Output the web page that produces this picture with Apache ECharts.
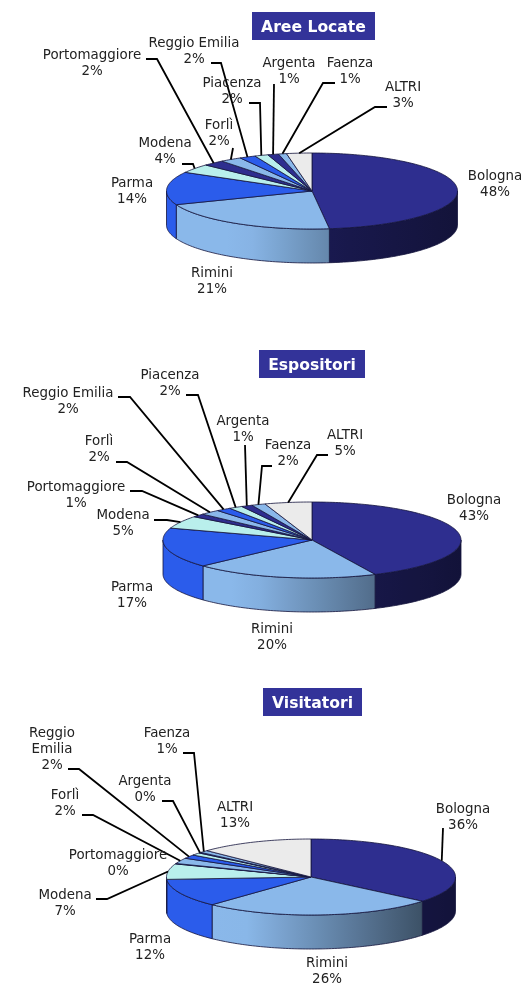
<!DOCTYPE html>
<html>
<head>
<meta charset="utf-8">
<style>
html,body{margin:0;padding:0;background:#fff}
#main{width:523px;height:984px}
</style>
<script src="https://cdn.jsdelivr.net/npm/echarts@6/dist/echarts.min.js"></script>
</head>
<body>
<div id="main"></div>
<script>
// slices run clockwise from 12 o'clock
var categories = ['Bologna','Rimini','Parma','Modena','Portomaggiore','Forlì','Reggio Emilia','Piacenza','Argenta','Faenza','ALTRI'];
var areeValues = [48,21,14,3.8,2.4,2.4,1.8,1.5,1.2,0.9,2.8];
var espositoriValues = [43,20,17,5.4,1.4,2.2,1.6,1.5,1.2,1.5,5.1];
var visitatoriValues = [36,26,12,6.6,0.2,2.4,1.6,1.1,0.3,1,12.8];
var sliceColors = ['#2e2e8f','#8ab8ea','#2b5ceb','#b9efec','#2e2e8f','#8ab8ea','#2b5ceb','#b9efec','#2e2e8f','#8ab8ea','#ebebeb'];

// label centre [x,y], then elbow points of the leader line (the rim end is computed)
var pies = [
  {title:'Aree Locate', values:areeValues, cx:312, cy:191, rx:145.5, ry:38, depth:34, box:[252,12,123,28],
   labels:{
    'Bologna':{at:[495,182]},
    'Rimini':{at:[212,279]},
    'Parma':{at:[132,189]},
    'Modena':{at:[165,149],line:[[182,164],[193,164]]},
    'Portomaggiore':{at:[92,61],line:[[146,59],[157,59]]},
    'Forlì':{at:[219,131],line:[[233,148]]},
    'Reggio Emilia':{at:[194,49],line:[[211,63],[221,63]]},
    'Piacenza':{at:[232,89],line:[[249,103],[260,103]]},
    'Argenta':{at:[289,69],line:[[274,84]]},
    'Faenza':{at:[350,69],line:[[335,83],[323,83]]},
    'ALTRI':{at:[403,93],line:[[387,107],[375,107]]}
   }},
  {title:'Espositori', values:espositoriValues, cx:312, cy:540, rx:149, ry:38, depth:34, box:[259,350,106,28],
   labels:{
    'Bologna':{at:[474,506]},
    'Rimini':{at:[272,635]},
    'Parma':{at:[132,593]},
    'Modena':{at:[123,521],line:[[154,520],[167,520]]},
    'Portomaggiore':{at:[76,493],line:[[130,491],[142,491]]},
    'Forlì':{at:[99,447],line:[[116,462],[127,462]]},
    'Reggio Emilia':{at:[68,399],line:[[118,397],[130,397]]},
    'Piacenza':{at:[170,381],line:[[186,395],[198,395]]},
    'Argenta':{at:[243,427],line:[[245,445]]},
    'Faenza':{at:[288,451],line:[[272,466],[262,466]]},
    'ALTRI':{at:[345,441],line:[[328,455],[317,455]]}
   }},
  {title:'Visitatori', values:visitatoriValues, cx:311, cy:877, rx:144.5, ry:38, depth:34, box:[263,688,99,28],
   labels:{
    'Bologna':{at:[463,815],line:[[443,828]]},
    'Rimini':{at:[327,969]},
    'Parma':{at:[150,945]},
    'Modena':{at:[65,901],line:[[96,899],[107,899]]},
    'Portomaggiore':{at:[118,861]},
    'Forlì':{at:[65,801],line:[[82,815],[93,815]]},
    'Reggio Emilia':{at:[52,747],line:[[68,769],[79,769]],text:'Reggio\nEmilia'},
    'Argenta':{at:[145,787],line:[[162,801],[173,801]]},
    'Faenza':{at:[167,739],line:[[183,753],[194,753]]},
    'ALTRI':{at:[235,813]}
   }}
];

var TOP = -Math.PI / 2;

function rimPoint(p, ang, dy) {
  return [p.cx + p.rx * Math.cos(ang), p.cy + p.ry * Math.sin(ang) + (dy || 0)];
}

function arcPoints(p, a0, a1, dy) {
  var n = Math.max(2, Math.ceil(Math.abs(a1 - a0) / 0.02));
  var pts = [];
  for (var i = 0; i <= n; i++) pts.push(rimPoint(p, a0 + (a1 - a0) * i / n, dy));
  return pts;
}

// darken a colour for the lit side wall, darker towards the right of the pie
function shade(hex, m) {
  var c = echarts.color.parse(hex);
  return 'rgb(' + Math.round(c[0]*m) + ',' + Math.round(c[1]*m) + ',' + Math.round(c[2]*m) + ')';
}
function sideFactor(x, idx) {
  if (idx === 0) return 0.55 - (x - 330) / 130 * 0.15;
  var m = 1 - (x - 245) * 0.00317;
  return Math.max(0.4, Math.min(1, m));
}

function sideGradient(p, pts, color, idx) {
  var x0 = pts[0][0], x1 = pts[0][0];
  pts.forEach(function (q) { x0 = Math.min(x0, q[0]); x1 = Math.max(x1, q[0]); });
  var stops = [];
  for (var i = 0; i <= 6; i++) {
    stops.push({offset:i/6, color:shade(color, sideFactor(x0 + (x1 - x0) * i / 6, idx))});
  }
  return new echarts.graphic.LinearGradient(0, 0, 1, 0, stops);
}

function makeRender(p) {
  var total = p.values.reduce(function (a, b) { return a + b; }, 0);
  return function (params, api) {
    var idx = params.dataIndex;
    var val = api.value(1);
    var before = p.values.slice(0, idx).reduce(function (a, b) { return a + b; }, 0);
    var a0 = TOP + before / total * Math.PI * 2;
    var a1 = a0 + val / total * Math.PI * 2;
    var mid = (a0 + a1) / 2;
    var color = sliceColors[idx];
    var name = categories[idx];
    var kids = [];
    var edge = {stroke:'#14143c', lineWidth:0.8, lineJoin:'round'};

    // front wall only where the arc faces the viewer (0..PI in screen angle)
    var f0 = Math.max(a0, 0), f1 = Math.min(a1, Math.PI);
    if (f1 > f0) {
      var front = arcPoints(p, f0, f1);
      var back = arcPoints(p, f1, f0, p.depth);
      var wall = front.concat(back);
      kids.push({type:'polygon', z2:1, shape:{points:wall},
        style:Object.assign({fill:sideGradient(p, wall, color, idx)}, edge)});
    }
    // top face
    kids.push({type:'polygon', z2:2, shape:{points:[[p.cx,p.cy]].concat(arcPoints(p, a0, a1))},
      style:Object.assign({fill:color}, edge)});

    var lab = p.labels[name];
    if (lab) {
      if (lab.line) {
        kids.push({type:'polyline', z2:3, shape:{points:lab.line.concat([rimPoint(p, mid)])},
          style:{stroke:'#000', lineWidth:1.8, fill:null}});
      }
      kids.push({type:'text', z2:4, x:lab.at[0], y:lab.at[1] + 2.5, style:{
        text:(lab.text || name) + '\n' + Math.round(val) + '%',
        font:'13.4px "DejaVu Sans"', lineHeight:16, fill:'#222', align:'center', verticalAlign:'middle'
      }});
    }
    return {type:'group', children:kids};
  };
}

var option = {
  animation:false,
  backgroundColor:'#fff',
  // titles are the dark blue tags above each pie
  graphic:pies.map(function (p) {
    return {type:'group', children:[
      {type:'rect', shape:{x:p.box[0], y:p.box[1], width:p.box[2], height:p.box[3]}, style:{fill:'#333399'}},
      {type:'text', x:p.box[0]+p.box[2]/2, y:p.box[1]+p.box[3]/2 + 2, z:10, style:{
        text:p.title, font:'bold 15.6px "DejaVu Sans"', fill:'#fff', align:'center', verticalAlign:'middle'}}
    ]};
  }),
  series:pies.map(function (p) {
    return {
      type:'custom', coordinateSystem:'none', silent:true, clip:false,
      data:categories.map(function (c, i) { return [c, p.values[i]]; }),
      encode:{value:1},
      renderItem:makeRender(p)
    };
  })
};

var chart = echarts.init(document.getElementById('main'), null, {renderer:'canvas'});
chart.setOption(option);
</script>
</body>
</html>
